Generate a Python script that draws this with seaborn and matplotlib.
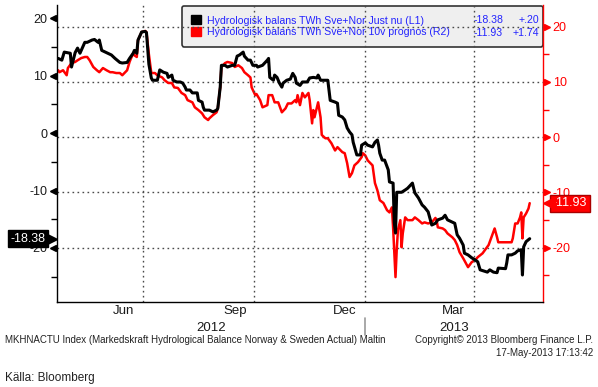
"""
Hydrologisk balans Sverige + Norge (Bloomberg-stil)
"""
import numpy as np
import pandas as pd
import matplotlib
matplotlib.use('Agg')
import matplotlib.pyplot as plt
import matplotlib.dates as mdates
import matplotlib.transforms as mtransforms
from matplotlib.patches import Patch
from matplotlib.ticker import NullFormatter
import seaborn as sns

sns.set_style('white')
plt.rcParams['font.family'] = ['Liberation Sans', 'DejaVu Sans']

# --- data (TWh) ---
just_nu_dates = [
    '2012-04-22', '2012-04-25', '2012-04-27', '2012-05-02', '2012-05-03', '2012-05-06', '2012-05-08',
    '2012-05-10', '2012-05-14', '2012-05-16', '2012-05-20', '2012-05-22', '2012-05-25', '2012-05-26',
    '2012-05-28', '2012-05-31', '2012-06-02', '2012-06-05', '2012-06-08', '2012-06-12', '2012-06-14',
    '2012-06-18', '2012-06-20', '2012-06-23', '2012-06-24', '2012-06-26', '2012-06-27', '2012-06-30',
    '2012-07-03', '2012-07-04', '2012-07-06', '2012-07-08', '2012-07-09', '2012-07-13', '2012-07-15',
    '2012-07-18', '2012-07-21', '2012-07-22', '2012-07-25', '2012-07-26', '2012-07-29', '2012-08-01',
    '2012-08-03', '2012-08-05', '2012-08-06', '2012-08-09', '2012-08-11', '2012-08-15', '2012-08-16',
    '2012-08-19', '2012-08-20', '2012-08-21', '2012-08-25', '2012-08-28', '2012-08-31', '2012-09-01',
    '2012-09-03', '2012-09-04', '2012-09-07', '2012-09-09', '2012-09-13', '2012-09-15', '2012-09-17',
    '2012-09-19', '2012-09-22', '2012-09-23', '2012-09-26', '2012-09-28', '2012-09-30', '2012-10-03',
    '2012-10-04', '2012-10-08', '2012-10-12', '2012-10-13', '2012-10-14', '2012-10-17', '2012-10-18',
    '2012-10-20', '2012-10-22', '2012-10-24', '2012-10-25', '2012-10-28', '2012-10-31', '2012-11-02',
    '2012-11-04', '2012-11-05', '2012-11-08', '2012-11-10', '2012-11-14', '2012-11-16', '2012-11-19',
    '2012-11-22', '2012-11-23', '2012-11-25', '2012-12-01', '2012-12-03', '2012-12-07', '2012-12-09',
    '2012-12-10', '2012-12-13', '2012-12-15', '2012-12-17', '2012-12-19', '2012-12-21', '2012-12-22',
    '2012-12-25', '2012-12-28', '2012-12-29', '2013-01-01', '2013-01-03', '2013-01-07', '2013-01-09',
    '2013-01-11', '2013-01-12', '2013-01-13', '2013-01-15', '2013-01-17', '2013-01-20', '2013-01-21',
    '2013-01-24', '2013-01-25', '2013-01-26', '2013-01-27', '2013-01-31', '2013-02-03', '2013-02-05',
    '2013-02-09', '2013-02-10', '2013-02-11', '2013-02-14', '2013-02-17', '2013-02-19', '2013-02-22',
    '2013-02-25', '2013-02-28', '2013-03-02', '2013-03-06', '2013-03-08', '2013-03-10', '2013-03-14',
    '2013-03-16', '2013-03-18', '2013-03-20', '2013-03-23', '2013-03-24', '2013-03-27', '2013-03-30',
    '2013-04-02', '2013-04-04', '2013-04-06', '2013-04-12', '2013-04-14', '2013-04-17', '2013-04-20',
    '2013-04-21', '2013-04-27', '2013-04-28', '2013-04-29', '2013-05-02', '2013-05-05', '2013-05-07',
    '2013-05-10', '2013-05-11', '2013-05-12', '2013-05-14', '2013-05-17',
]
just_nu_values = [
    13.0, 12.7, 14.1, 13.9, 11.5, 14.0, 14.8,
    13.9, 15.8, 15.8, 16.2, 16.3, 15.8, 16.2,
    14.4, 14.1, 13.9, 13.6, 13.0, 12.3, 12.2,
    12.3, 13.0, 13.9, 14.4, 13.9, 16.2, 17.6,
    17.7, 17.5, 12.0, 9.6, 9.2, 9.2, 11.0,
    10.6, 10.4, 9.7, 10.1, 9.2, 8.9, 8.9,
    8.7, 8.0, 7.5, 7.5, 7.0, 7.0, 5.7,
    5.4, 4.5, 4.0, 4.0, 3.7, 4.0, 4.3,
    8.0, 11.8, 11.8, 11.5, 11.8, 11.8, 13.4,
    13.6, 14.1, 13.4, 12.7, 12.7, 11.8, 11.8,
    11.5, 11.8, 12.7, 13.0, 9.7, 9.2, 10.1,
    9.7, 8.7, 8.0, 8.7, 9.2, 9.4, 10.4,
    9.7, 8.7, 8.3, 8.9, 8.9, 9.6, 9.7,
    9.6, 10.1, 9.2, 9.2, 5.7, 5.4, 5.2,
    3.1, 2.8, 2.3, 0.9, 0.2, -0.3, -1.6,
    -3.8, -3.8, -2.1, -1.7, -2.1, -2.4, -1.6,
    -1.2, -2.1, -3.5, -4.7, -4.7, -6.4, -8.5,
    -8.7, -15.6, -17.4, -10.3, -10.3, -9.9, -9.6,
    -8.7, -9.6, -10.4, -11.3, -12.5, -12.9, -13.7,
    -16.0, -15.7, -15.1, -14.8, -14.3, -15.1, -15.5,
    -15.7, -17.7, -18.3, -19.5, -20.9, -21.2, -21.7,
    -22.1, -22.4, -23.8, -24.2, -23.8, -24.2, -24.3,
    -23.5, -23.6, -22.6, -21.2, -21.2, -20.9, -20.5,
    -20.3, -24.7, -19.8, -18.9, -18.38,
]

prognos_dates = [
    '2012-04-22', '2012-04-23', '2012-04-26', '2012-04-29', '2012-04-30', '2012-05-03', '2012-05-06',
    '2012-05-08', '2012-05-11', '2012-05-14', '2012-05-16', '2012-05-18', '2012-05-21', '2012-05-24',
    '2012-05-26', '2012-05-29', '2012-06-01', '2012-06-04', '2012-06-06', '2012-06-09', '2012-06-12',
    '2012-06-14', '2012-06-18', '2012-06-20', '2012-06-23', '2012-06-24', '2012-06-26', '2012-06-27',
    '2012-06-30', '2012-07-03', '2012-07-04', '2012-07-06', '2012-07-08', '2012-07-11', '2012-07-13',
    '2012-07-17', '2012-07-19', '2012-07-22', '2012-07-25', '2012-07-27', '2012-07-30', '2012-08-02',
    '2012-08-05', '2012-08-07', '2012-08-11', '2012-08-13', '2012-08-16', '2012-08-19', '2012-08-21',
    '2012-08-24', '2012-08-25', '2012-08-28', '2012-08-31', '2012-09-01', '2012-09-03', '2012-09-04',
    '2012-09-07', '2012-09-09', '2012-09-13', '2012-09-15', '2012-09-18', '2012-09-21', '2012-09-23',
    '2012-09-26', '2012-09-28', '2012-09-29', '2012-10-02', '2012-10-03', '2012-10-06', '2012-10-08',
    '2012-10-12', '2012-10-13', '2012-10-16', '2012-10-18', '2012-10-21', '2012-10-24', '2012-10-27',
    '2012-10-29', '2012-11-01', '2012-11-04', '2012-11-05', '2012-11-06', '2012-11-08', '2012-11-10',
    '2012-11-12', '2012-11-15', '2012-11-16', '2012-11-18', '2012-11-19', '2012-11-20', '2012-11-22',
    '2012-11-23', '2012-11-25', '2012-11-26', '2012-11-29', '2012-12-01', '2012-12-04', '2012-12-07',
    '2012-12-09', '2012-12-13', '2012-12-15', '2012-12-17', '2012-12-19', '2012-12-21', '2012-12-23',
    '2012-12-26', '2012-12-29', '2012-12-30', '2013-01-01', '2013-01-03', '2013-01-07', '2013-01-09',
    '2013-01-11', '2013-01-13', '2013-01-16', '2013-01-19', '2013-01-21', '2013-01-23', '2013-01-24',
    '2013-01-26', '2013-01-27', '2013-01-28', '2013-01-30', '2013-01-31', '2013-02-01', '2013-02-03',
    '2013-02-05', '2013-02-09', '2013-02-11', '2013-02-14', '2013-02-17', '2013-02-19', '2013-02-22',
    '2013-02-25', '2013-02-28', '2013-03-01', '2013-03-02', '2013-03-06', '2013-03-08', '2013-03-10',
    '2013-03-14', '2013-03-16', '2013-03-18', '2013-03-20', '2013-03-23', '2013-03-26', '2013-03-27',
    '2013-03-30', '2013-04-02', '2013-04-04', '2013-04-08', '2013-04-10', '2013-04-13', '2013-04-16',
    '2013-04-18', '2013-04-20', '2013-04-21', '2013-05-02', '2013-05-03', '2013-05-05', '2013-05-07',
    '2013-05-09', '2013-05-10', '2013-05-11', '2013-05-12', '2013-05-14', '2013-05-16', '2013-05-17',
]
prognos_values = [
    12.1, 11.75, 12.1, 11.2, 12.5, 13.4, 13.6,
    13.9, 14.3, 14.5, 14.5, 13.9, 12.7, 12.1,
    11.75, 12.5, 12.1, 11.75, 11.75, 11.6, 11.6,
    11.2, 12.1, 13.6, 15.2, 14.8, 14.5, 17.5,
    19.0, 19.2, 19.0, 15.0, 11.6, 11.6, 11.2,
    10.8, 10.3, 9.8, 9.8, 9.0, 8.9, 8.0,
    7.6, 6.7, 6.3, 5.4, 4.9, 4.3, 3.6,
    3.1, 3.4, 4.0, 4.5, 5.2, 9.0, 12.7,
    13.4, 13.6, 13.4, 12.7, 13.0, 12.5, 11.75,
    11.2, 10.8, 9.0, 7.6, 7.8, 6.7, 5.4,
    5.8, 7.6, 7.6, 6.3, 6.3, 4.5, 5.2,
    6.1, 6.1, 6.7, 6.3, 7.6, 5.8, 8.0,
    7.2, 8.0, 6.7, 2.5, 4.9, 3.6, 5.4,
    6.3, 3.6, 0.4, -0.2, -0.2, -1.1, -2.4,
    -1.8, -2.7, -2.9, -4.7, -7.2, -6.5, -5.1,
    -4.5, -3.6, -2.9, -3.3, -4.2, -5.1, -8.3,
    -9.6, -11.4, -11.9, -13.2, -13.6, -12.7, -16.3,
    -25.3, -20.4, -16.8, -15.0, -19.9, -17.4, -14.5,
    -15.0, -15.0, -14.5, -15.0, -15.6, -15.4, -15.6,
    -15.4, -14.6, -15.0, -16.3, -16.5, -16.8, -17.4,
    -18.1, -18.6, -19.5, -20.8, -21.9, -23.1, -23.5,
    -22.6, -22.2, -21.7, -21.0, -20.4, -19.5, -17.7,
    -16.5, -18.1, -19.0, -19.0, -18.3, -15.6, -15.6,
    -14.5, -13.6, -18.3, -14.5, -13.8, -12.9, -11.93,
]

series_labels = ['Hydrologisk balans TWh Sve+Nor Just nu (L1)',
                 'Hydrologisk balans TWh Sve+Nor 10v prognos (R2)']
series_change = ['+.20', '+1.74']
month_labels = ['Jun', 'Sep', 'Dec', 'Mar']
month_label_dates = ['2012-06-15', '2012-09-15', '2012-12-15', '2013-03-15']
year_labels = ['2012', '2013']

df_l1 = pd.DataFrame({'datum': pd.to_datetime(just_nu_dates), 'twh': just_nu_values})
df_r2 = pd.DataFrame({'datum': pd.to_datetime(prognos_dates), 'twh': prognos_values})

RED = '#ff0000'
BLUE = '#2323ff'
GRID = dict(color='#4a4a4a', linestyle=(0, (1.2, 2.4)), linewidth=1.0)
W, H = 598, 387

fig = plt.figure(figsize=(W / 100, H / 100), dpi=100)
ax = fig.add_axes([57 / W, 1 - 302 / H, 486 / W, 297 / H])
ax2 = ax.twinx()
ax.set_zorder(ax2.get_zorder() + 1)
ax.patch.set_visible(False)

sns.lineplot(data=df_r2, x='datum', y='twh', ax=ax2, color=RED, lw=1.8, estimator=None)
sns.lineplot(data=df_l1, x='datum', y='twh', ax=ax, color='black', lw=2.2, estimator=None)

x0, x1 = pd.Timestamp('2012-04-21'), pd.Timestamp('2013-05-28')
ax.set_xlim(x0, x1)
ax.set_ylim(-29.4, 22.3)
ax2.set_ylim(-29.8, 23.9)
for a in (ax, ax2):
    a.set_xlabel('')
    a.set_ylabel('')

# spines
ax.spines['top'].set_visible(False)
ax2.spines['top'].set_visible(False)
ax.spines['right'].set_visible(False)
ax2.spines['left'].set_visible(False)
ax2.spines['bottom'].set_visible(False)
ax.spines['left'].set_color('black')
ax.spines['bottom'].set_color('black')
ax2.spines['right'].set_color(RED)
for s in ('left', 'bottom'):
    ax.spines[s].set_linewidth(1.0)
ax2.spines['right'].set_linewidth(1.0)

# y ticks
major = [-20, -10, 0, 10, 20]
minor = [-25, -15, -5, 5, 15]
ax.set_yticks(major)
ax.set_yticks(minor, minor=True)
ax2.set_yticks(major)
ax2.set_yticks(minor, minor=True)
ax.tick_params(axis='y', which='both', direction='out', length=4, width=1, color='black',
               labelsize=9, labelcolor='#1a1a1a', pad=3)
ax2.tick_params(axis='y', which='both', direction='out', length=4, width=1, color=RED,
                labelsize=9, labelcolor=RED, pad=3)
ax.yaxis.set_major_formatter(matplotlib.ticker.FuncFormatter(lambda v, p: f'{v:.0f}'))
ax2.yaxis.set_major_formatter(matplotlib.ticker.FuncFormatter(lambda v, p: f'{v:.0f}'))

tl = ax.transAxes + mtransforms.ScaledTranslation(-3 / 72, 0, fig.dpi_scale_trans)
tr = ax2.transAxes + mtransforms.ScaledTranslation(3 / 72, 0, fig.dpi_scale_trans)
for v in major:
    ax.plot([0], [v], marker='<', ms=4.5, color='black', clip_on=False,
            transform=mtransforms.blended_transform_factory(tl, ax.transData))
    ax2.plot([1], [v], marker='>', ms=4.5, color=RED, clip_on=False,
             transform=mtransforms.blended_transform_factory(tr, ax2.transData))

# x ticks
ax.xaxis.set_major_locator(mdates.MonthLocator(bymonth=[1, 4, 7, 10]))
ax.xaxis.set_minor_locator(mdates.MonthLocator())
ax.xaxis.set_major_formatter(NullFormatter())
ax.tick_params(axis='x', which='both', direction='out', length=4, width=1, color='black')

# grid
ax.grid(False)
ax2.grid(False)
ax.xaxis.grid(True, which='major', **GRID)
ax2.yaxis.grid(True, which='major', **GRID)

# month and year labels
xlab = mtransforms.blended_transform_factory(ax.transData, fig.transFigure)
for lab, d in zip(month_labels, month_label_dates):
    ax.text(pd.Timestamp(d), 1 - 311 / H, lab, transform=xlab, ha='center', va='center',
            fontsize=9.5, color='#1a1a1a')
year_spans = [(x0, pd.Timestamp('2013-01-01')), (pd.Timestamp('2013-01-01'), x1)]
for lab, (a, b) in zip(year_labels, year_spans):
    ax.text(a + (b - a) / 2, 1 - 328 / H, lab, transform=xlab, ha='center', va='center',
            fontsize=9.5, color='#1a1a1a')
ax.plot([pd.Timestamp('2013-01-01')] * 2, [1 - 318 / H, 1 - 335 / H], transform=xlab,
        color='#9a9a9a', lw=1.2, clip_on=False)

# legend
handles = [Patch(fc='black', ec='black'), Patch(fc=RED, ec=RED)]
leg = ax2.legend(handles, series_labels, loc='upper left', bbox_to_anchor=(0.257, 0.997, 0.743, 0.0),
                 mode='expand', borderaxespad=0, handlelength=0.95, handleheight=0.95,
                 handletextpad=0.5, fontsize=7.6, labelcolor=BLUE, frameon=True, fancybox=True,
                 facecolor='#efefef', edgecolor='#333333', framealpha=1, borderpad=0.9,
                 labelspacing=0.12)
leg.get_frame().set_linewidth(1.2)
leg.set_zorder(0.2)
last_vals = [just_nu_values[-1], prognos_values[-1]]
for i, (val, chg) in enumerate(zip(last_vals, series_change)):
    yy = 1 - (20 + 13 * i - 5) / 297
    ax2.text((503 - 57) / 486, yy, f'{val:.2f}', transform=ax2.transAxes, ha='right', va='center',
             fontsize=7.6, color=BLUE, zorder=3)
    ax2.text((539 - 57) / 486, yy, chg, transform=ax2.transAxes, ha='right', va='center',
             fontsize=7.6, color=BLUE, zorder=3)

# value tags on the axes
tagl = mtransforms.blended_transform_factory(
    ax.transAxes + mtransforms.ScaledTranslation(-8 / 72, 0, fig.dpi_scale_trans), ax.transData)
ax.text(0, just_nu_values[-1], f'{just_nu_values[-1]:.2f}', transform=tagl, ha='right', va='center',
        fontsize=9, color='white', clip_on=False,
        bbox=dict(boxstyle='square,pad=0.2', fc='black', ec='black'))
ax.plot([0], [just_nu_values[-1]], marker='>', ms=9, color='black', clip_on=False,
        transform=mtransforms.blended_transform_factory(
            ax.transAxes + mtransforms.ScaledTranslation(-4.5 / 72, 0, fig.dpi_scale_trans), ax.transData))
tagr = mtransforms.blended_transform_factory(
    ax2.transAxes + mtransforms.ScaledTranslation(7 / 72, 0, fig.dpi_scale_trans), ax2.transData)
ax2.text(1, prognos_values[-1], f'{prognos_values[-1]:.2f}', transform=tagr, ha='left', va='center',
         fontsize=9, color='white', clip_on=False, zorder=4,
         bbox=dict(boxstyle='square,pad=0.2', fc=RED, ec='#aa0000'))
ax2.plot([1], [prognos_values[-1]], marker='<', ms=9, color=RED, clip_on=False, zorder=4,
         transform=mtransforms.blended_transform_factory(
             ax2.transAxes + mtransforms.ScaledTranslation(4 / 72, 0, fig.dpi_scale_trans), ax2.transData))

# footer
fig.text(5 / W, 1 - 340 / H,
         'MKHNACTU Index (Markedskraft Hydrological Balance Norway & Sweden Actual) Maltin',
         ha='left', va='center', fontsize=7, color='#222222')
fig.text(593 / W, 1 - 340 / H, 'Copyright\u00a9 2013 Bloomberg Finance L.P.',
         ha='right', va='center', fontsize=7, color='#222222')
fig.text(593 / W, 1 - 353 / H, '17-May-2013 17:13:42',
         ha='right', va='center', fontsize=7, color='#222222')
fig.text(5 / W, 1 - 378 / H, 'Källa: Bloomberg', ha='left', va='center', fontsize=8.5, color='#222222')

fig.savefig('out.png', dpi=100)
plt.close(fig)
